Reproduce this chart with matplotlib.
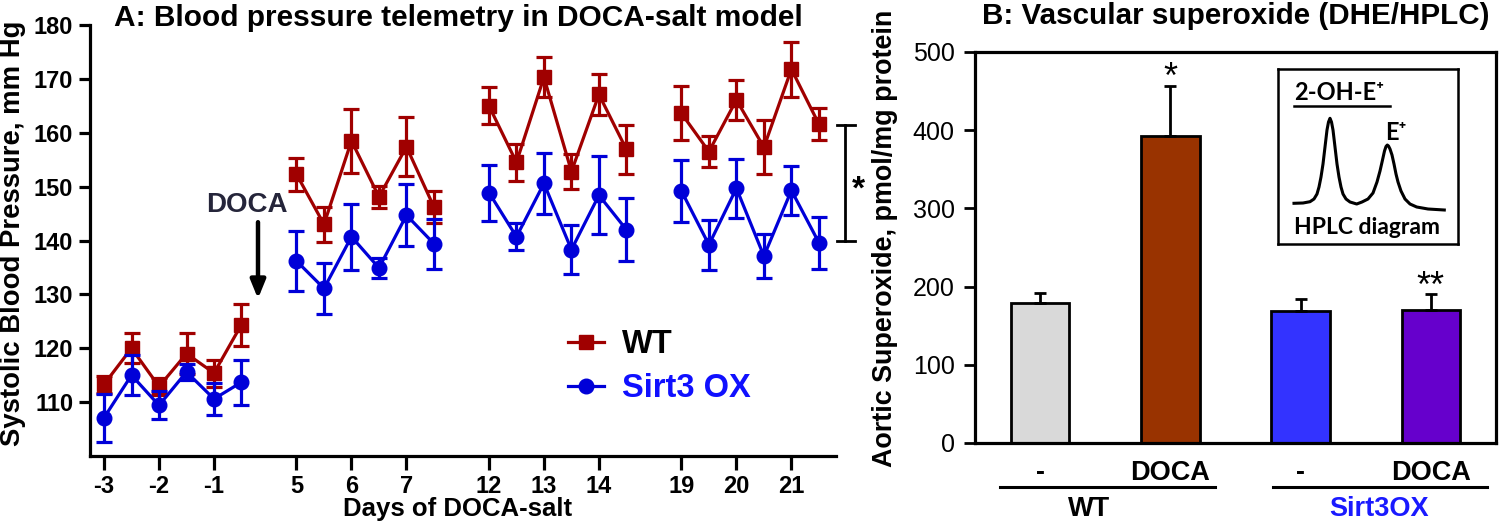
import matplotlib
matplotlib.use('Agg')
import matplotlib.pyplot as plt
import matplotlib.transforms as mtransforms
import numpy as np

plt.rcParams['font.family'] = ['Liberation Sans', 'DejaVu Sans']

# Panel A: telemetry (mean +/- SEM), half-day points in 4 blocks
days = [-3, -2.5, -2, -1.5, -1, -0.5,
        5, 5.5, 6, 6.5, 7, 7.5,
        12, 12.5, 13, 13.5, 14, 14.5,
        19, 19.5, 20, 20.5, 21, 21.5]
wt_mean = [113.3, 120.0, 112.9, 119.0, 115.4, 124.4,
           152.3, 143.0, 158.5, 148.1, 157.4, 146.2,
           165.0, 154.5, 170.3, 152.8, 167.1, 156.9,
           163.6, 156.5, 166.1, 157.3, 171.8, 161.6]
wt_sem = [1.6, 2.8, 1.6, 3.8, 2.5, 3.9,
          3.1, 3.2, 5.9, 2.0, 5.5, 2.9,
          3.4, 3.5, 3.7, 3.3, 3.8, 4.5,
          5.0, 2.9, 3.7, 5.0, 5.1, 3.0]
ox_mean = [107.1, 115.0, 109.4, 115.6, 110.6, 113.7,
           136.2, 131.1, 140.7, 134.9, 144.7, 139.4,
           148.9, 140.7, 150.6, 138.3, 148.4, 142.0,
           149.2, 139.2, 149.7, 137.1, 149.3, 139.6]
ox_sem = [4.5, 3.7, 2.6, 1.5, 3.0, 4.2,
          5.5, 4.7, 6.1, 1.9, 5.7, 4.6,
          5.2, 2.5, 5.6, 4.6, 7.2, 5.8,
          5.8, 4.6, 5.5, 4.1, 4.5, 4.8]
points_per_block = 6

# Panel B: aortic superoxide
groups = ['-', 'DOCA', '-', 'DOCA']
sup_mean = [179, 392, 169, 170.5]
sup_sem = [13, 65, 15, 20]
bar_colors = ['#D9D9D9', '#993300', '#3333FF', '#6600CC']

# inset sketch of an HPLC trace
trace_t = [16, 25, 32, 36, 39, 41, 43, 45, 47, 49, 50.5, 52, 53.5, 55, 57, 59, 61,
           63, 65, 68, 72, 78.7, 84, 90, 95, 99, 102, 104.5, 106.5, 108, 109.3,
           110.5, 112, 114, 116, 118, 120, 123, 127, 132, 138.7, 150, 166.3]
trace_s = [40.7, 41, 42.3, 45, 50, 57, 67, 80, 97, 114, 122, 125.7, 122, 114, 97,
           80, 67, 57, 50, 45, 42, 40, 42, 45, 51, 62, 73, 84, 93, 97.5, 99,
           98, 95, 89, 80, 70, 62, 53, 45, 40, 37, 35, 34]

WT_C = '#A00000'
OX_C = '#0000D8'

fig = plt.figure(figsize=(15, 5.23), dpi=100)

# ---------------- Panel A ----------------
axA = fig.add_axes([0.06, 0.1281, 0.4973, 0.8241])
idx = np.arange(len(days))
pos = 0.5 * (idx % points_per_block) + 3.5 * (idx // points_per_block)
days = np.array(days)

lines = {}
for mean, sem, col, mk, ms, name in [(wt_mean, wt_sem, WT_C, 's', 9.5, 'WT'),
                                     (ox_mean, ox_sem, OX_C, 'o', 10.5, 'OX')]:
    mean = np.array(mean); sem = np.array(sem)
    for b in range(len(days) // points_per_block):
        sl = slice(b * points_per_block, (b + 1) * points_per_block)
        eb = axA.errorbar(pos[sl], mean[sl], yerr=sem[sl], fmt='-' + mk, color=col,
                          lw=2.3, ms=ms, elinewidth=2.3, capsize=6, capthick=2.3,
                          clip_on=False, zorder=3 if name == 'WT' else 4)
    lines[name] = eb.lines[0]

axA.set_xlim(-0.255, 13.31)
axA.set_ylim(100, 180)
axA.set_yticks(np.arange(110, 181, 10))
whole = days == np.round(days)
axA.set_xticks(pos[whole])
axA.set_xticklabels([str(int(d)) for d in days[whole]])
for s in ['top', 'right']:
    axA.spines[s].set_visible(False)
for s in ['left', 'bottom']:
    axA.spines[s].set_linewidth(2.3)
axA.tick_params(axis='y', length=8, width=2.3, labelsize=17, pad=4)
axA.tick_params(axis='x', length=10, width=2.3, labelsize=17, pad=4)
for t in axA.get_xticklabels() + axA.get_yticklabels():
    t.set_fontweight('bold')

# DOCA arrow
axA.text(2.6, 146.6, 'DOCA', ha='center', va='center', fontsize=20,
         fontweight='bold', color='#25253a')
axA.annotate('', xy=(2.8, 129.2), xytext=(2.8, 143.4),
             arrowprops=dict(arrowstyle='-|>,head_width=0.45,head_length=1.1',
                             lw=3.2, color='black', shrinkA=0, shrinkB=0))

# significance bracket
axA.plot([13.47, 13.47], [140.0, 161.4], color='black', lw=2, clip_on=False)
axA.plot([13.33, 13.65], [161.4, 161.4], color='black', lw=2, clip_on=False)
axA.plot([13.33, 13.65], [140.0, 140.0], color='black', lw=2, clip_on=False)
axA.text(13.71, 149.3, '*', ha='center', va='center', fontsize=24, fontweight='bold',
         clip_on=False)

leg = axA.legend([lines['WT'], lines['OX']], ['WT', 'Sirt3 OX'], loc='upper left',
                 bbox_to_anchor=(0.601, 0.362), frameon=False, handlelength=1.1,
                 handletextpad=0.55, labelspacing=0.4,
                 prop={'size': 23.5, 'weight': 'bold'})
leg.get_texts()[0].set_color('black')
leg.get_texts()[1].set_color('#1010FF')

fig.text(458 / 1500, 1 - 18 / 523, 'A: Blood pressure telemetry in DOCA-salt model',
         ha='center', va='center', fontsize=21.5, fontweight='bold')
fig.text(13 / 1500, 1 - 233 / 523, 'Systolic Blood Pressure, mm Hg', rotation=90,
         ha='center', va='center', fontsize=19.8, fontweight='bold')
fig.text(458 / 1500, 1 - 509 / 523, 'Days of DOCA-salt', ha='center', va='center',
         fontsize=18.5, fontweight='bold')

# ---------------- Panel B ----------------
axB = fig.add_axes([0.65, 0.153, 0.3473, 0.7476])
xb = np.arange(len(groups))
axB.bar(xb, sup_mean, width=0.45, color=bar_colors, edgecolor='black', linewidth=2,
        yerr=[np.zeros(len(sup_sem)), sup_sem], ecolor='black',
        error_kw=dict(elinewidth=2, capsize=4, capthick=2), zorder=2)
axB.set_xlim(-0.5, 3.5)
axB.set_ylim(0, 500)
axB.set_yticks(np.arange(0, 501, 100))
axB.set_xticks(xb)
axB.set_xticklabels(groups, fontsize=19.5, fontweight='bold')
axB.tick_params(axis='x', length=0, pad=12)
axB.tick_params(axis='y', length=8, width=2, labelsize=18, pad=6.5)
for s in axB.spines.values():
    s.set_linewidth(2.3)

axB.text(1, 466, '*', ha='center', va='center', fontsize=26)
axB.text(3, 199, '**', ha='center', va='center', fontsize=26)

trans = mtransforms.blended_transform_factory(axB.transData, axB.transAxes)
axB.plot([-0.31, 1.34], [-0.1125, -0.1125], color='black', lw=2.2,
         transform=trans, clip_on=False)
axB.plot([1.79, 3.43], [-0.1125, -0.1125], color='black', lw=2.2,
         transform=trans, clip_on=False)
axB.text(0.375, -0.168, 'WT', transform=trans, ha='center', va='center',
         fontsize=19.5, fontweight='bold')
axB.text(2.6, -0.168, 'Sirt3OX', transform=trans, ha='center', va='center',
         fontsize=19.5, fontweight='bold', color='#1a1aff')

fig.text(1236 / 1500, 1 - 16 / 523, 'B: Vascular superoxide (DHE/HPLC)',
         ha='center', va='center', fontsize=21.3, fontweight='bold')
fig.text(885 / 1500, 1 - 238 / 523, 'Aortic Superoxide, pmol/mg protein', rotation=90,
         ha='center', va='center', fontsize=19.4, fontweight='bold')

# inset
axI = fig.add_axes([1278 / 1500, 1 - 244 / 523, 180 / 1500, 175 / 523])
axI.plot(trace_t, trace_s, color='black', lw=2.2, solid_joinstyle='round')
axI.set_xlim(0, 180)
axI.set_ylim(0, 175)
axI.set_xticks([])
axI.set_yticks([])
for s in axI.spines.values():
    s.set_linewidth(1.8)
ifam = ['Lato', 'DejaVu Sans']
axI.text(16, 151, '2-OH-E\u207a', fontsize=17, fontweight='bold', family=ifam,
         ha='left', va='center')
axI.plot([16, 112], [138, 138], color='black', lw=1.8)
axI.text(107, 112, 'E\u207a', fontsize=17, fontweight='bold', family=ifam,
         ha='left', va='center')
axI.text(16, 17, 'HPLC diagram', fontsize=16.5, fontweight='bold', family=ifam,
         ha='left', va='center')

fig.savefig('out.png', dpi=100)
